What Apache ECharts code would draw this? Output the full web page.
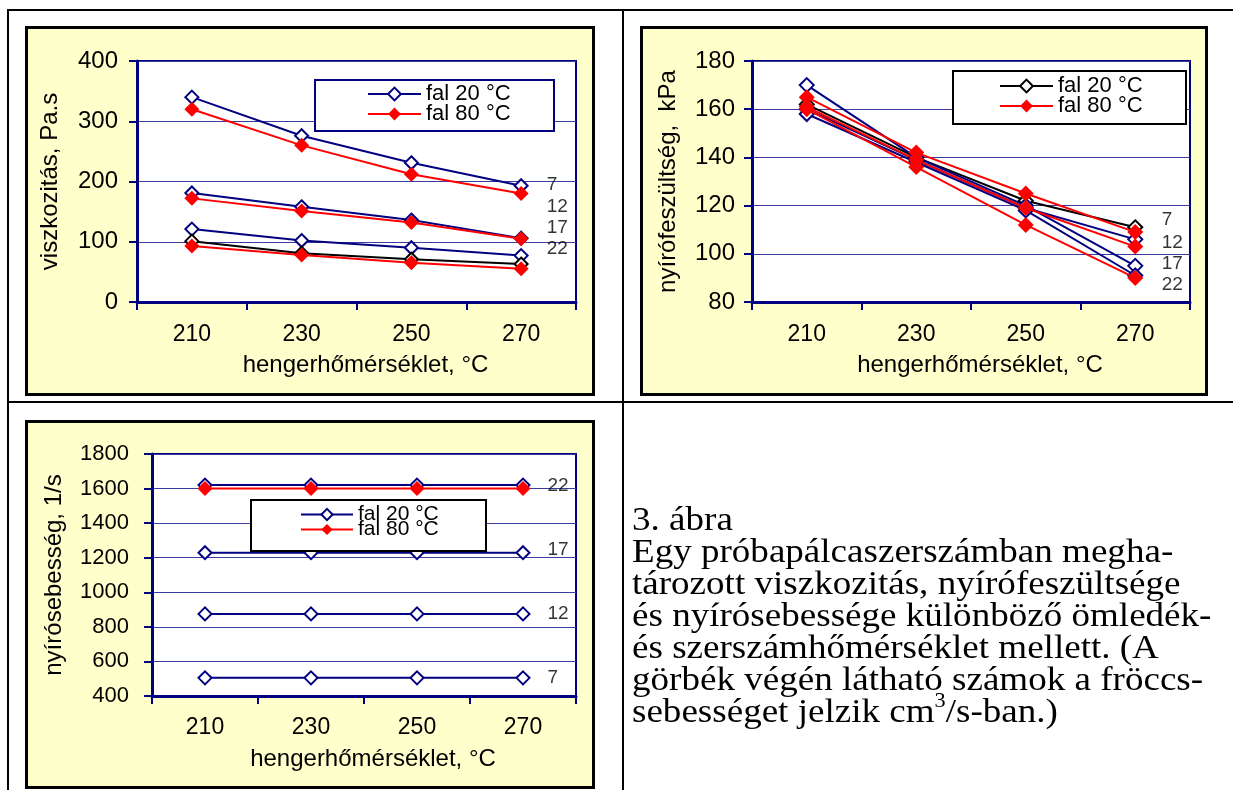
<!DOCTYPE html>
<html>
<head>
<meta charset="utf-8">
<script src="https://cdn.jsdelivr.net/npm/echarts@6/dist/echarts.min.js"></script>
<style>
  html, body { margin: 0; padding: 0; background: #fff; }
  body { width: 1233px; height: 790px; position: relative; overflow: hidden; }
  .rule { position: absolute; background: #000; }
  .panel { position: absolute; background: #ffffcc; border: 3px solid #000; box-sizing: border-box; }
  .chart { position: absolute; left: 0; top: 0; width: 1233px; height: 790px; }
  #caption {
    position: absolute; left: 632px; top: 503px;
    font-family: "Liberation Serif", "Times New Roman", serif;
    font-size: 34px; line-height: 32px; color: #000; white-space: nowrap;
    transform: scaleX(1.09); transform-origin: 0 0;
  }
  #caption sup { font-size: 0.6em; line-height: 0; vertical-align: 0.75em; }
</style>
</head>
<body>
<!-- table frame -->
<div class="rule" style="left:7px;top:9px;width:1226px;height:2px"></div>
<div class="rule" style="left:7px;top:9px;width:2px;height:781px"></div>
<div class="rule" style="left:622px;top:9px;width:2px;height:781px"></div>
<div class="rule" style="left:7px;top:401px;width:1226px;height:2px"></div>

<!-- chart backgrounds -->
<div class="panel" style="left:25px;top:26px;width:570px;height:370px"></div>
<div class="panel" style="left:640px;top:26px;width:568px;height:370px"></div>
<div class="panel" style="left:25px;top:420px;width:570px;height:369px"></div>

<div id="c1" class="chart"></div>
<div id="c2" class="chart"></div>
<div id="c3" class="chart"></div>

<div id="caption">3. ábra<br>Egy próbapálcaszerszámban megha-<br>tározott viszkozitás, nyírófeszültsége<br>és nyírósebessége különböző ömledék-<br>és szerszámhőmérséklet mellett. (A<br>görbék végén látható számok a fröccs-<br>sebességet jelzik cm<sup>3</sup>/s-ban.)</div>

<script>
// cylinder temperatures, °C
const temps = ['210', '230', '250', '270'];
// injection rates written at the curve ends, cm3/s
const rateNames = ['7', '12', '17', '22'];
const legendNames = ['fal 20 °C', 'fal 80 °C'];
const xTitle = 'hengerhőmérséklet, °C';

// viscosity, Pa.s  (rows: 7, 12, 17, 22 cm3/s)
const viscWall20 = [
  [340, 276, 231, 193],
  [181, 158, 136, 106],
  [121, 102, 90, 77],
  [101, 81, 71, 63]
];
const viscWall80 = [
  [320, 260, 212, 180],
  [172, 151, 132, 105],
  [93, 78, 65, 55]
];
const viscRateAt = [194, 158, 123, 88];
const viscAxis = [0, 400, 100];

// shear stress, kPa
const stressWall20 = [
  [162, 140, 122, 111],
  [160, 139, 119, 106],
  [170, 140, 120, 95],
  [158, 138, 118, 91]
];
const stressWall80 = [
  [165, 142, 125, 109],
  [161, 139, 119, 103],
  [160, 136, 112, 90]
];
const stressRateAt = [114, 104.5, 96, 87];
const stressAxis = [80, 180, 20];

// shear rate, 1/s
const shearWall20 = [
  [505, 505, 505, 505],
  [875, 875, 875, 875],
  [1229, 1229, 1229, 1229],
  [1620, 1620, 1620, 1620]
];
const shearWall80 = [
  [1600, 1600, 1600, 1600]
];
const shearRateAt = [504, 878, 1248, 1614];
const shearAxis = [400, 1800, 200];

const FONT = '"Liberation Sans", Arial, Helvetica, sans-serif';
const NAVY = '#000080';
const RED = '#ff0000';
const BLACK = '#000000';

function buildOption(c) {
  const series = [];
  c.wall20.forEach((vals, i) => {
    series.push({
      type: 'line', name: legendNames[0], data: vals,
      symbol: 'emptyDiamond', symbolSize: c.symbolSize,
      lineStyle: { color: c.colors20[i], width: 2 },
      itemStyle: { color: c.colors20[i], borderWidth: 2 },
      z: 2
    });
  });
  c.wall80.forEach(vals => {
    series.push({
      type: 'line', name: legendNames[1], data: vals,
      symbol: 'diamond', symbolSize: c.symbolSize + 2,
      lineStyle: { color: RED, width: 2 },
      itemStyle: { color: RED },
      z: 3
    });
  });
  // rate labels beside the last temperature
  series.push({
    type: 'scatter',
    data: rateNames.map((n, i) => ({ name: n, value: [temps[temps.length - 1], c.rateAt[i]] })),
    symbolSize: 1,
    itemStyle: { color: 'rgba(0,0,0,0)' },
    silent: true,
    label: {
      show: true, position: 'right', distance: c.rateGap,
      formatter: p => p.name, color: '#000', fontSize: 19, fontFamily: FONT
    },
    z: 6
  });

  return {
    animation: false,
    grid: {
      left: c.grid[0], top: c.grid[1], width: c.grid[2], height: c.grid[3],
      show: true, backgroundColor: '#fff', borderColor: NAVY, borderWidth: 2
    },
    legend: {
      data: legendNames, orient: 'vertical', selectedMode: false,
      left: c.legend[0], top: c.legend[1], padding: 0,
      itemWidth: c.legend[2], itemHeight: c.legend[3], itemGap: c.legend[4],
      textStyle: { fontFamily: FONT, fontSize: c.legend[5], color: '#000', lineHeight: c.legend[3] },
      z: 5
    },
    graphic: [{
      type: 'rect', silent: true, z: 4,
      shape: { x: c.box[0], y: c.box[1], width: c.box[2], height: c.box[3] },
      style: { fill: '#fff', stroke: c.boxColor, lineWidth: 2 }
    }],
    xAxis: {
      type: 'category', data: temps, boundaryGap: true,
      axisLine: { lineStyle: { color: NAVY, width: 3 } },
      axisTick: { show: true, length: 8, lineStyle: { color: NAVY, width: 2 } },
      axisLabel: { margin: c.xLabelGap, fontSize: c.tickSize, fontFamily: FONT, color: '#000' },
      name: xTitle, nameLocation: 'middle', nameGap: c.xNameGap,
      nameTextStyle: { fontSize: c.titleSize, fontFamily: FONT, color: '#000', padding: [0, 0, 0, 18] }
    },
    yAxis: {
      type: 'value', min: c.axis[0], max: c.axis[1], interval: c.axis[2],
      axisLine: { show: true, lineStyle: { color: NAVY, width: 3 } },
      axisTick: { show: true, length: 8, lineStyle: { color: NAVY, width: 2 } },
      splitLine: { show: true, lineStyle: { color: '#3c3ca0', width: 1 } },
      axisLabel: {
        margin: c.yLabelGap, fontSize: c.yTickSize, fontFamily: FONT, color: '#000',
        formatter: v => String(v)
      },
      name: c.yTitle, nameLocation: 'middle', nameRotate: 90, nameGap: c.yNameGap,
      nameTextStyle: { fontSize: c.titleSize, fontFamily: FONT, color: '#000' }
    },
    tooltip: { show: false },
    series: series
  };
}

const charts = [
  {
    el: 'c1', wall20: viscWall20, wall80: viscWall80, rateAt: viscRateAt, axis: viscAxis,
    colors20: [NAVY, NAVY, NAVY, BLACK], yTitle: 'viszkozitás, Pa.s',
    grid: [137, 61, 439, 241], legend: [367, 83, 53, 16, -2, 22],
    box: [315, 80, 239, 51], boxColor: NAVY,
    symbolSize: 13, rateGap: 25, tickSize: 23, yTickSize: 24, titleSize: 24,
    xLabelGap: 21, xNameGap: 51, yLabelGap: 19, yNameGap: 75
  },
  {
    el: 'c2', wall20: stressWall20, wall80: stressWall80, rateAt: stressRateAt, axis: stressAxis,
    colors20: [BLACK, NAVY, NAVY, NAVY], yTitle: 'nyírófeszültség,  kPa',
    grid: [752, 61, 438, 241], legend: [999, 75, 53, 16, -2, 22],
    box: [953, 71, 233, 53], boxColor: BLACK,
    symbolSize: 14, rateGap: 26, tickSize: 23, yTickSize: 24, titleSize: 24,
    xLabelGap: 21, xNameGap: 51, yLabelGap: 17, yNameGap: 72
  },
  {
    el: 'c3', wall20: shearWall20, wall80: shearWall80, rateAt: shearRateAt, axis: shearAxis,
    colors20: [NAVY, NAVY, NAVY, NAVY], yTitle: 'nyírósebesség, 1/s',
    grid: [152, 454, 424, 242], legend: [300, 504, 52, 14, -6, 21],
    box: [251, 500, 235, 51], boxColor: BLACK,
    symbolSize: 13, rateGap: 24, tickSize: 23, yTickSize: 22, titleSize: 24,
    xLabelGap: 20, xNameGap: 51, yLabelGap: 23, yNameGap: 86
  }
];

charts.forEach(c => {
  const chart = echarts.init(document.getElementById(c.el), null, { renderer: 'canvas' });
  chart.setOption(buildOption(c));
});
</script>
</body>
</html>
